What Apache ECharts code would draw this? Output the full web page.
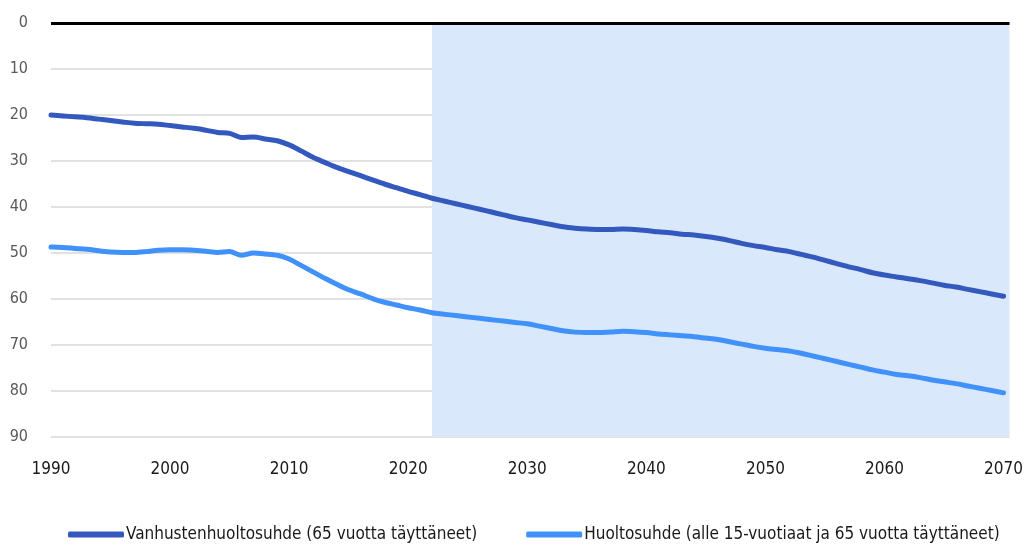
<!DOCTYPE html>
<html>
<head>
<meta charset="utf-8">
<script src="https://cdn.jsdelivr.net/npm/echarts@6/dist/echarts.min.js"></script>
<style>html,body{margin:0;padding:0;background:#fff}#c{width:1026px;height:545px}</style>
</head>
<body>
<div id="c"></div>
<script>
const years = [];
for (let y = 1990; y <= 2070; y++) years.push(y);
const seriesNames = ['Vanhustenhuoltosuhde (65 vuotta täyttäneet)', 'Huoltosuhde (alle 15-vuotiaat ja 65 vuotta täyttäneet)'];
const elderly = [
20.0,20.2,20.4,20.6,20.9,21.2,21.5,21.8,21.9,22.0,
22.3,22.6,22.9,23.3,23.8,24.0,24.9,24.8,25.2,25.6,
26.5,27.8,29.2,30.3,31.4,32.3,33.2,34.1,35.0,35.8,
36.6,37.3,38.1,38.7,39.3,39.9,40.5,41.1,41.7,42.3,
42.8,43.3,43.8,44.3,44.6,44.8,44.9,44.9,44.8,44.9,
45.1,45.4,45.6,45.9,46.1,46.4,46.8,47.3,47.9,48.4,
48.8,49.3,49.7,50.3,50.9,51.6,52.3,53.0,53.6,54.3,
54.8,55.2,55.6,56.0,56.5,57.0,57.4,57.9,58.4,58.9,
59.4];
const total = [
48.7,48.8,49.0,49.2,49.5,49.8,49.9,49.9,49.7,49.4,
49.3,49.3,49.4,49.6,49.9,49.7,50.5,50.0,50.2,50.5,
51.3,52.7,54.1,55.5,56.8,58.0,58.9,59.9,60.7,61.3,
61.9,62.4,63.0,63.3,63.6,63.9,64.2,64.5,64.8,65.1,
65.4,65.9,66.4,66.9,67.2,67.3,67.3,67.2,67.0,67.1,
67.3,67.6,67.8,68.0,68.2,68.5,68.8,69.3,69.8,70.3,
70.7,71.0,71.3,71.8,72.4,73.0,73.6,74.2,74.8,75.4,
75.9,76.4,76.7,77.1,77.6,78.0,78.4,78.9,79.4,79.9,
80.4];
const projectionStart = 2022;
const xTicks = [1990, 2000, 2010, 2020, 2030, 2040, 2050, 2060, 2070];
const yTicks = [0, 10, 20, 30, 40, 50, 60, 70, 80, 90];

const font = '"DejaVu Sans Condensed", "Liberation Sans Narrow", Roboto, sans-serif';
const chart = echarts.init(document.getElementById('c'));
chart.setOption({
  animation: false,
  backgroundColor: '#fff',
  grid: { left: 51, right: 15, top: 23, bottom: 108, containLabel: false },
  xAxis: {
    type: 'value', min: 1990, max: 2070.5, interval: 10,
    axisLine: { show: false, onZero: false }, axisTick: { show: false },
    splitLine: { show: false },
    axisLabel: { color: '#1a1a1a', fontFamily: font, fontSize: 17, margin: 24, showMaxLabel: false,
      formatter: v => xTicks.includes(v) ? String(v) : '' }
  },
  yAxis: {
    type: 'value', inverse: true, min: 0, max: 90, interval: 10,
    axisLine: { show: false }, axisTick: { show: false },
    splitLine: { lineStyle: { color: '#d9d9d9', width: 1.5 } },
    axisLabel: { color: '#595959', fontFamily: font, fontSize: 16, margin: 23,
      formatter: v => yTicks.includes(v) ? String(v) : '' }
  },
  legend: {
    left: 63, top: 521, itemWidth: 56, itemHeight: 6, itemGap: 49, icon: 'roundRect',
    textStyle: { fontFamily: font, fontSize: 17, color: '#1a1a1a', padding: [0, 0, 0, -3] },
    data: seriesNames
  },
  series: [
    {
      name: seriesNames[0], type: 'line', smooth: 0.3, symbol: 'none',
      data: years.map((y, i) => [y, elderly[i]]),
      lineStyle: { color: '#3358be', width: 5, cap: 'round' },
      itemStyle: { color: '#3358be' },
      markArea: {
        silent: true,
        itemStyle: { color: '#dae8fc' },
        data: [[{ xAxis: projectionStart }, { xAxis: 2070.5 }]]
      },
      z: 3
    },
    {
      name: seriesNames[1], type: 'line', smooth: 0.3, symbol: 'none',
      data: years.map((y, i) => [y, total[i]]),
      lineStyle: { color: '#4191fb', width: 5, cap: 'round' },
      itemStyle: { color: '#4191fb' },
      markLine: {
        silent: true, symbol: 'none', label: { show: false },
        lineStyle: { color: '#000', width: 3, type: 'solid' },
        data: [{ yAxis: 0 }]
      },
      z: 3
    }
  ]
});
</script>
</body>
</html>
